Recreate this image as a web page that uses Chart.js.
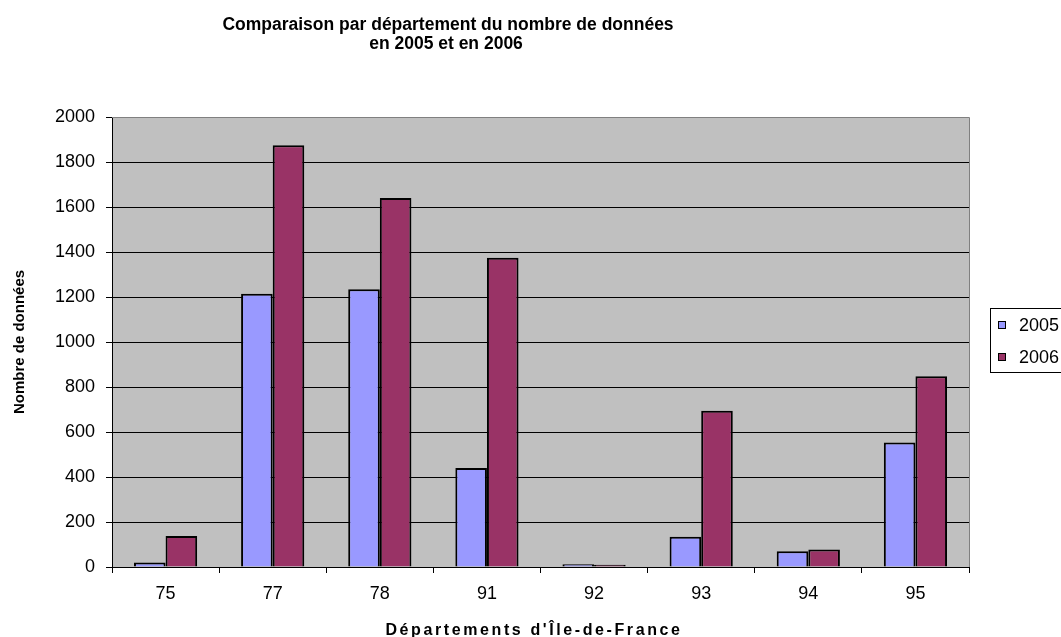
<!DOCTYPE html>
<html>
<head>
<meta charset="utf-8">
<script src="https://cdn.jsdelivr.net/npm/chart.js@4.4.1/dist/chart.umd.min.js"></script>
<style>
html,body{margin:0;padding:0;background:#fff;overflow:hidden;}
canvas{display:block;}
</style>
</head>
<body>
<canvas id="c" width="1061" height="637"></canvas>
<script>
const categories = ['75', '77', '78', '91', '92', '93', '94', '95'];
const series2005 = [20, 1215, 1235, 440, 12, 135, 70, 553];
const series2006 = [138, 1875, 1640, 1375, 10, 695, 78, 848];
const seriesLabels = ['2005', '2006'];
const yTicks = [0, 200, 400, 600, 800, 1000, 1200, 1400, 1600, 1800, 2000];
const titleLines = ['Comparaison par département du nombre de données', 'en 2005 et en 2006'];
const xTitle = "Départements d'Île-de-France";
const yTitle = 'Nombre de données';
const colors = ['#9999FF', '#993366'];

const decor = {
  id: 'decor',
  beforeDraw(chart) {
    const {ctx, chartArea: a} = chart;
    ctx.save();
    ctx.fillStyle = '#fff';
    ctx.fillRect(0, 0, chart.width, chart.height);
    ctx.fillStyle = '#C0C0C0';
    ctx.fillRect(a.left, a.top, a.right - a.left, a.bottom - a.top);
    ctx.restore();
  },
  afterDraw(chart) {
    const {ctx, chartArea: a} = chart;
    ctx.save();
    // plot border (right / top)
    ctx.strokeStyle = '#808080';
    ctx.lineWidth = 1;
    ctx.beginPath();
    ctx.moveTo(a.left, a.top + 0.5);
    ctx.lineTo(Math.round(a.right) + 0.5, a.top + 0.5);
    ctx.lineTo(Math.round(a.right) + 0.5, a.bottom);
    ctx.stroke();
    // title
    ctx.fillStyle = '#000';
    ctx.font = 'bold 17.5px "Liberation Sans", Arial, sans-serif';
    ctx.textAlign = 'center';
    ctx.textBaseline = 'alphabetic';
    ctx.fillText(titleLines[0], 448, 30);
    ctx.fillText(titleLines[1], 446, 49);
    // x title with letter spacing
    ctx.font = 'bold 16px "Liberation Sans", Arial, sans-serif';
    if ('letterSpacing' in ctx) ctx.letterSpacing = '2.6px';
    ctx.textAlign = 'center';
    ctx.fillText(xTitle, 534, 635);
    if ('letterSpacing' in ctx) ctx.letterSpacing = '0px';
    // legend
    ctx.fillStyle = '#fff';
    ctx.fillRect(990.5, 308.5, 120, 64);
    ctx.strokeStyle = '#000';
    ctx.strokeRect(990.5, 308.5, 120, 64);
    const ys = [321, 353];
    chart.data.datasets.forEach((ds, i) => {
      ctx.fillStyle = ds.backgroundColor;
      ctx.fillRect(998.5, ys[i] + 0.5, 7, 7);
      ctx.strokeStyle = '#000';
      ctx.strokeRect(998.5, ys[i] + 0.5, 7, 7);
      ctx.fillStyle = '#000';
      ctx.font = '18px "Liberation Sans", Arial, sans-serif';
      ctx.textAlign = 'left';
      ctx.textBaseline = 'alphabetic';
      ctx.fillText(ds.label, 1019, ys[i] + 10);
    });
    ctx.restore();
  }
};

new Chart(document.getElementById('c'), {
  type: 'bar',
  data: {
    labels: categories,
    datasets: [
      {label: seriesLabels[0], data: series2005, backgroundColor: colors[0], borderColor: '#000', borderWidth: 2},
      {label: seriesLabels[1], data: series2006, backgroundColor: colors[1], borderColor: '#000', borderWidth: 2}
    ]
  },
  options: {
    responsive: false,
    animation: false,
    devicePixelRatio: 1,
    layout: {padding: {top: 117, right: 92, bottom: 0, left: 0}},
    plugins: {legend: {display: false}, title: {display: false}, tooltip: {enabled: false}},
    datasets: {bar: {categoryPercentage: 0.59, barPercentage: 1.0}},
    scales: {
      x: {
        grid: {drawOnChartArea: false, color: '#000', tickLength: 6, offset: true},
        border: {color: '#000', width: 1},
        ticks: {color: '#000', font: {family: '"Liberation Sans", Arial, sans-serif', size: 18}, padding: 10, maxRotation: 0},
        afterFit(s) { s.height = 70; }
      },
      y: {
        min: 0, max: 2000,
        afterBuildTicks(s) { s.ticks = yTicks.map(v => ({value: v})); },
        grid: {color: (c) => c.tick && c.tick.value === 2000 ? '#808080' : '#000', tickColor: '#000', tickLength: 6, lineWidth: 1},
        border: {color: '#000', width: 1},
        ticks: {color: '#000', font: {family: '"Liberation Sans", Arial, sans-serif', size: 18}, padding: 11, callback: (v) => String(v)},
        title: {display: true, text: yTitle, color: '#000', font: {family: '"Liberation Sans", Arial, sans-serif', size: 15, weight: 'bold'}, padding: {top: 11, bottom: 0}},
        afterFit(s) { s.width = 112; }
      }
    }
  },
  plugins: [decor]
});
</script>
</body>
</html>
